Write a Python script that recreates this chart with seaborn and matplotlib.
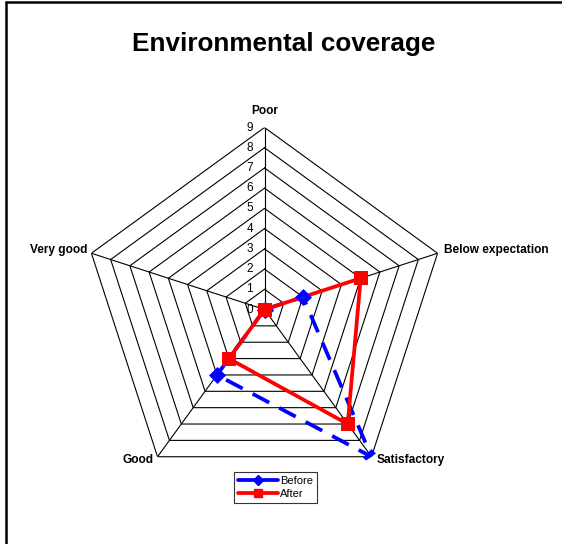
import numpy as np
import pandas as pd
import matplotlib
matplotlib.use("Agg")
import matplotlib.pyplot as plt
from matplotlib.lines import Line2D
import seaborn as sns

categories = ["Poor", "Below expectation", "Satisfactory", "Good", "Very good"]
before = [0, 2, 9, 4, 0]
after = [0, 5, 7, 3, 0]
tick_values = [0, 1, 2, 3, 4, 5, 6, 7, 8, 9]
title = "Environmental coverage"

sns.set_style("white")
plt.rcParams["font.family"] = ["Liberation Sans", "DejaVu Sans"]
plt.rcParams["text.color"] = "black"

fig = plt.figure(figsize=(5.62, 5.44), dpi=100)
ax = fig.add_axes([0.1468, 0.0965, 0.6477, 0.6691], projection="polar")
ax.set_theta_offset(np.pi / 2)
ax.set_theta_direction(-1)
ax.set_ylim(0, max(tick_values))
ax.grid(False)
ax.set_xticks([])
ax.set_yticks([])
ax.spines["polar"].set_visible(False)
ax.patch.set_alpha(0)

n = len(categories)
angles = [2 * np.pi * i / n for i in range(n)]
closed_angles = angles + [2 * np.pi]

# pentagon rings and spokes
for r in tick_values[1:]:
    ax.plot(closed_angles, [r] * (n + 1), color="black", lw=0.8, zorder=1)
for a in angles:
    ax.plot([a, a], [0, max(tick_values)], color="black", lw=0.8, zorder=1)

df_b = pd.DataFrame({"theta": closed_angles, "r": before + [before[0]]})
df_a = pd.DataFrame({"theta": closed_angles, "r": after + [after[0]]})

sns.lineplot(data=df_b, x="theta", y="r", ax=ax, sort=False, estimator=None,
             color="#0000FF", lw=2.7, linestyle=(0, (5, 3)), zorder=3)
sns.lineplot(data=df_a, x="theta", y="r", ax=ax, sort=False, estimator=None,
             color="#FF0000", lw=2.7, zorder=4)
sns.scatterplot(data=df_b.iloc[:-1], x="theta", y="r", ax=ax, marker="D",
                color="#0000FF", s=75, edgecolor="#0000FF", linewidth=0, zorder=5)
sns.scatterplot(data=df_a.iloc[:-1], x="theta", y="r", ax=ax, marker="s",
                color="#FF0000", s=95, edgecolor="#FF0000", linewidth=0, zorder=6)
ax.set_xlabel("")
ax.set_ylabel("")
ax.set_xticks([])
ax.set_yticks([])

rmax = max(tick_values)
label_offsets = [
    ((0, 17), "center"),
    ((6, 3), "left"),
    ((5, -3), "left"),
    ((-4, -3), "right"),
    ((-4, 3), "right"),
]
for a, lab, (off, ha) in zip(angles, categories, label_offsets):
    ax.annotate(lab, xy=(a, rmax), xytext=off, textcoords="offset pixels",
                ha=ha, va="center", fontsize=8.6, fontweight="bold",
                color="black", annotation_clip=False)

for t in tick_values:
    ax.annotate(str(t), xy=(0, t), xytext=(-15, 0), textcoords="offset pixels",
                ha="center", va="center", fontsize=8.5, color="black",
                annotation_clip=False)

fig.text(283.5 / 562, 1 - 44 / 544, title, ha="center", va="center",
         fontsize=18.8, fontweight="bold", color="black")

handles = [
    Line2D([], [], color="#0000FF", lw=2.7, marker="D", markersize=5),
    Line2D([], [], color="#FF0000", lw=2.7, marker="s", markersize=6),
]
leg = fig.legend(handles, ["Before", "After"], loc="center",
                 bbox_to_anchor=(275.5 / 562, 1 - 487.5 / 544),
                 fontsize=8, frameon=True, fancybox=False, edgecolor="black",
                 handlelength=3.6, handletextpad=0.2, borderpad=0.35,
                 labelspacing=0.25)
leg.get_frame().set_linewidth(0.8)
for txt in leg.get_texts():
    txt.set_color("black")

# outer frame (left and top edges)
fig.add_artist(Line2D([5.5 / 562, 5.5 / 562], [0, 1 - 1.5 / 544],
                      color="black", lw=1.8, transform=fig.transFigure))
fig.add_artist(Line2D([5.5 / 562, 1], [1 - 1.5 / 544, 1 - 1.5 / 544],
                      color="black", lw=1.8, transform=fig.transFigure))

fig.savefig("out.png", dpi=100)
